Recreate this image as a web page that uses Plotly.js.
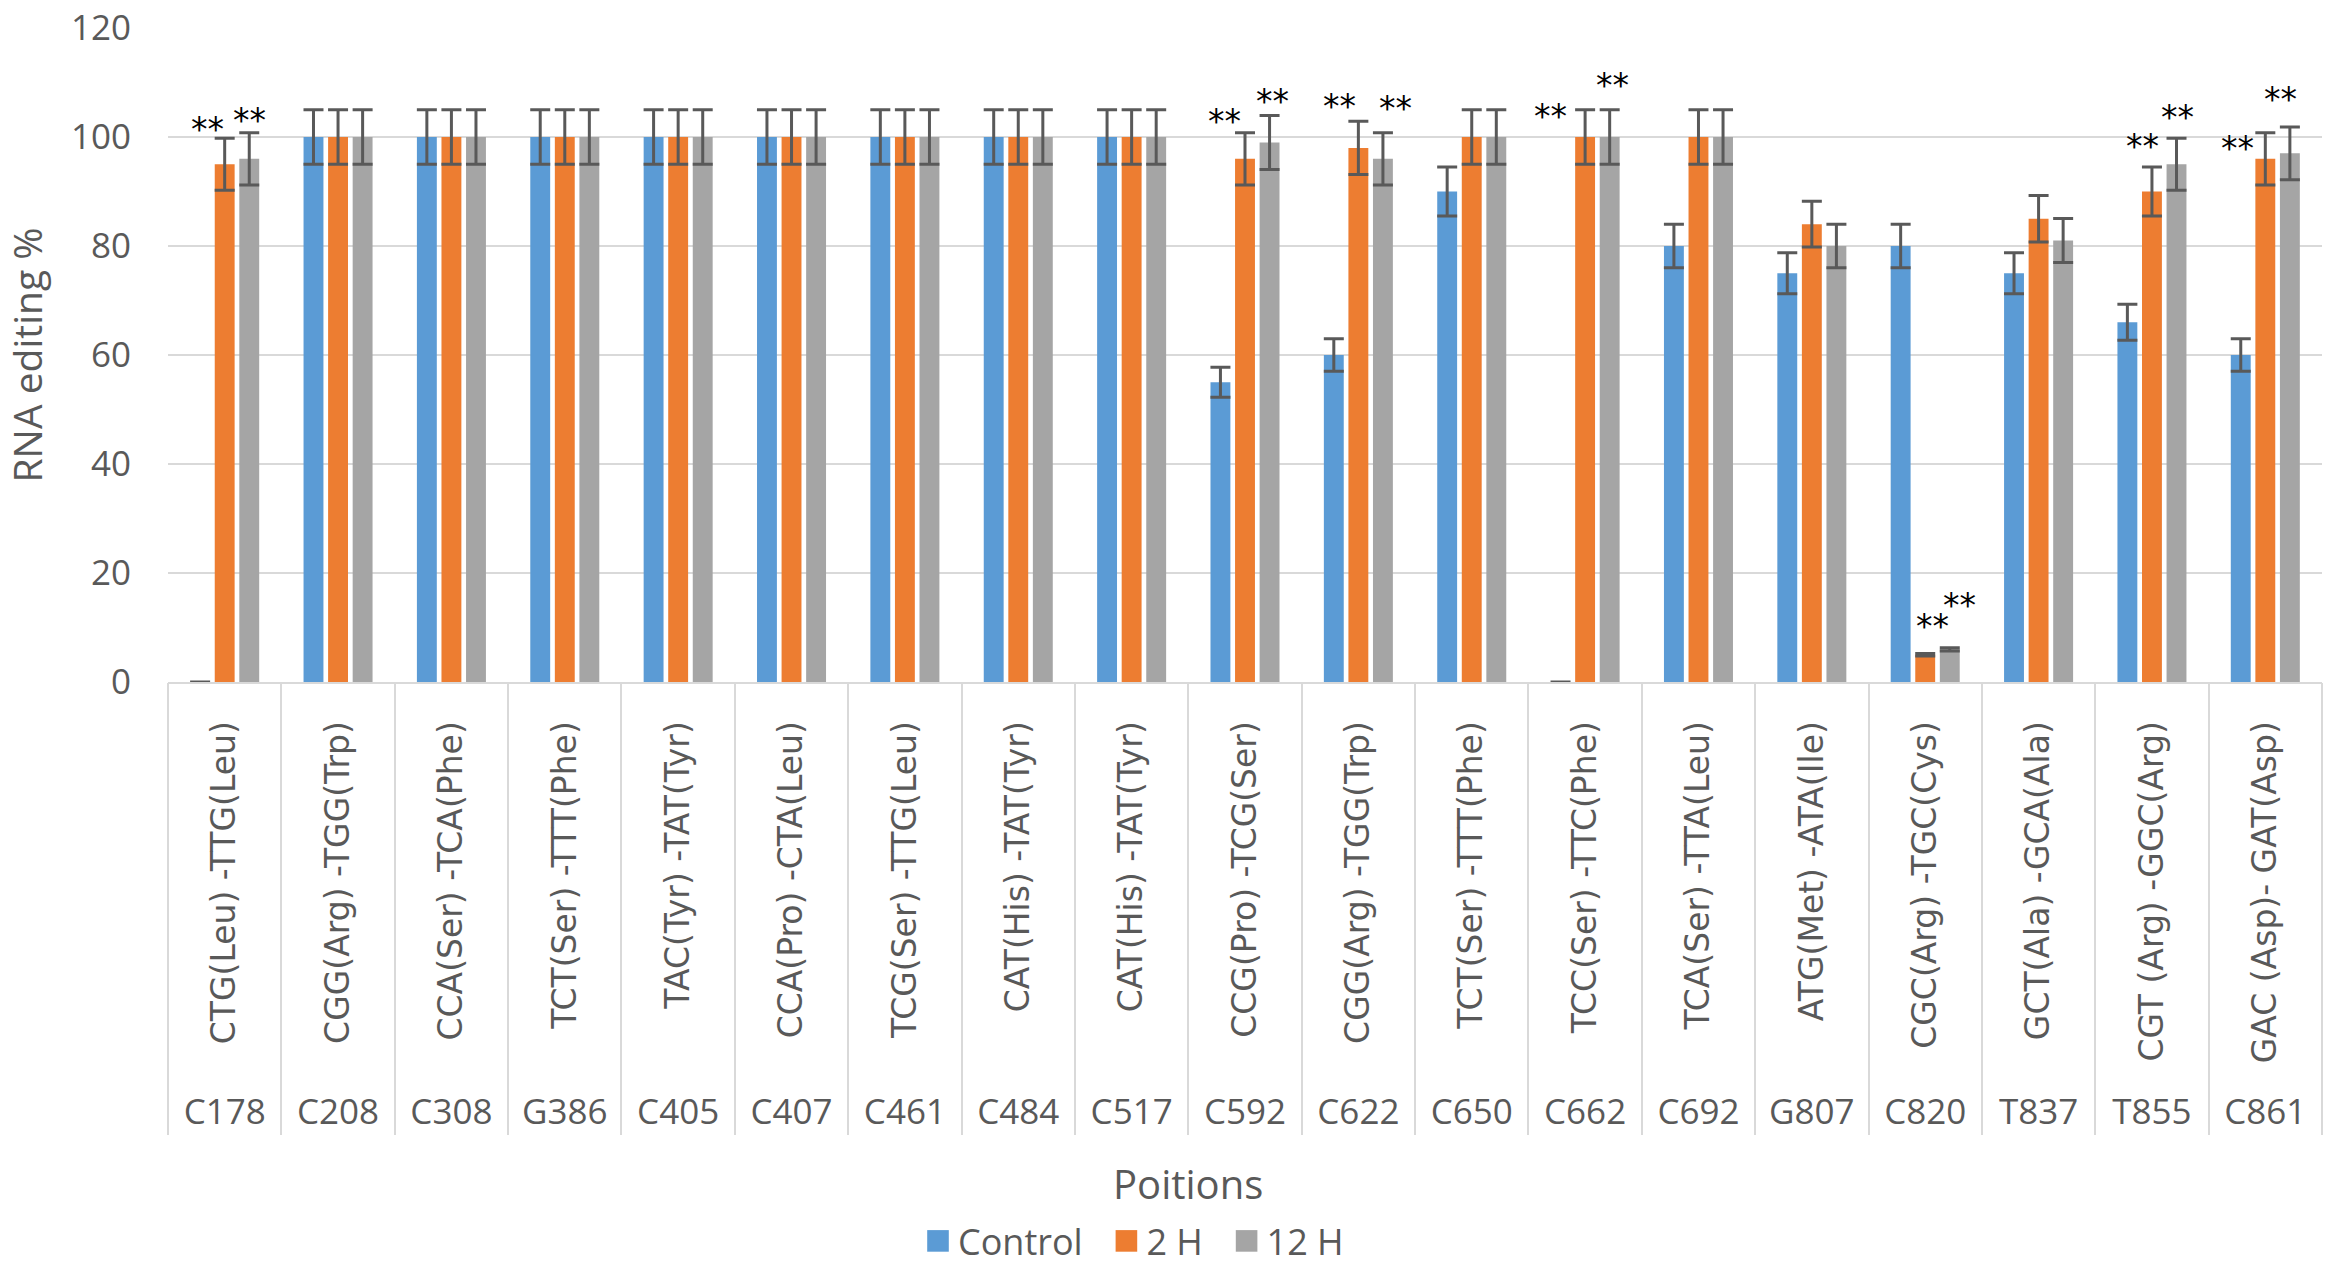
<!DOCTYPE html>
<html>
<head>
<meta charset="utf-8">
<script src="https://cdn.plot.ly/plotly-3.0.1.min.js"></script>
<style>
  html, body { margin: 0; padding: 0; background: #ffffff; }
  #chart { width: 2334px; height: 1278px; }
</style>
</head>
<body>
<div id="chart"></div>
<script>
// ---- data ----
const positions = ['C178','C208','C308','G386','C405','C407','C461','C484','C517','C592',
                   'C622','C650','C662','C692','G807','C820','T837','T855','C861'];
const codonChanges = ['CTG(Leu) -TTG(Leu)','CGG(Arg) -TGG(Trp)','CCA(Ser) -TCA(Phe)','TCT(Ser) -TTT(Phe)',
                      'TAC(Tyr) -TAT(Tyr)','CCA(Pro) -CTA(Leu)','TCG(Ser) -TTG(Leu)','CAT(His) -TAT(Tyr)',
                      'CAT(His) -TAT(Tyr)','CCG(Pro) -TCG(Ser)','CGG(Arg) -TGG(Trp)','TCT(Ser) -TTT(Phe)',
                      'TCC(Ser) -TTC(Phe)','TCA(Ser) -TTA(Leu)','ATG(Met) -ATA(Ile)','CGC(Arg) -TGC(Cys)',
                      'GCT(Ala) -GCA(Ala)','CGT (Arg) -GGC(Arg)','GAC (Asp)- GAT(Asp)'];
const control = [0,100,100,100,100,100,100,100,100,55,60,90,0,80,75,80,75,66,60];
const h2      = [95,100,100,100,100,100,100,100,100,96,98,100,100,100,84,5,85,90,96];
const h12     = [96,100,100,100,100,100,100,100,100,99,96,100,100,100,80,6,81,95,97];
const errorPercent = 5;
const seriesNames = ['Control','2 H','12 H'];
const yTicks = [0,20,40,60,80,100,120];
// significance marks: [position, series index]
const sigPos    = ['C178','C178','C592','C592','C622','C622','C662','C662','C820','C820','T855','T855','C861','C861'];
const sigSeries = [1,2,1,2,1,2,1,2,1,2,1,2,1,2];

// ---- styles ----
const colors = ['#5B9BD5','#ED7D31','#A5A5A5'];
const textGray = '#595959';
const lineGray = '#D9D9D9';
const W = 2334, H = 1278;
const M = {l:168, r:12, t:28, b:596, autoexpand: false};
const bargap = 0.35;
// pixel nudges for the ** labels (label placement only)
const sigNudgeX = [-17,0,-21,3,-19,13,-35,3,7,10,-9,1,-28,-9];
const sigNudgeY = [15,18,17,20,21,30,-1,30,33,48,26,27,-10,33];
const legendPad = '\u00a0\u00a0';

const seriesData = [control, h2, h12];
const traces = seriesData.map((vals, i) => ({
  type: 'bar',
  name: seriesNames[i] + (i < seriesNames.length - 1 ? legendPad : ''),
  x: positions,
  y: vals,
  marker: {color: colors[i]},
  error_y: {type: 'percent', value: errorPercent, visible: true,
            color: textGray, thickness: 3, width: 10},
  hoverinfo: 'x+y+name'
}));
// helper traces so the extra x axes (position labels, dividers) are drawn
['x2','x3'].forEach(ax => traces.push({
  type: 'scatter', mode: 'markers', x: positions, y: positions.map(() => null),
  xaxis: ax, yaxis: 'y', showlegend: false, hoverinfo: 'skip'
}));

const plotW = W - M.l - M.r;
const plotH = H - M.t - M.b;
const catW = plotW / positions.length;
const slot = catW * (1 - bargap) / 3;

const annotations = sigPos.map((p, k) => {
  const s = sigSeries[k];
  const v = seriesData[s][positions.indexOf(p)];
  return {
    x: p, xref: 'x', y: v * (1 + errorPercent / 100), yref: 'y',
    text: '**', showarrow: false,
    xanchor: 'center', yanchor: 'middle',
    xshift: (s - 1) * slot + sigNudgeX[k],
    yshift: sigNudgeY[k] - 6,
    font: {family: 'DejaVu Sans, sans-serif', size: 33, color: '#000000'}
  };
});
annotations.push({
  text: 'Poitions', showarrow: false,
  xref: 'paper', yref: 'paper',
  x: (1188 - M.l) / plotW, y: -(1183 - (H - M.b)) / plotH,
  xanchor: 'center', yanchor: 'middle',
  font: {family: 'Open Sans, sans-serif', size: 40, color: textGray}
});

const xRange = [-0.5, positions.length - 0.5];
const baseX = {
  type: 'category', tickmode: 'array', tickvals: positions,
  range: xRange, autorange: false,
  showgrid: false, zeroline: false, fixedrange: true, automargin: false
};

const layout = {
  width: W, height: H,
  margin: M,
  paper_bgcolor: '#ffffff', plot_bgcolor: '#ffffff',
  barmode: 'group', bargap: bargap, bargroupgap: 0.19,
  showlegend: true,
  legend: {
    orientation: 'h', x: (918 - M.l) / plotW, xanchor: 'left',
    y: -(1241 - (H - M.b)) / plotH, yanchor: 'middle',
    font: {family: 'Open Sans, sans-serif', size: 36, color: textGray},
    tracegroupgap: 0, bgcolor: 'rgba(0,0,0,0)'
  },
  xaxis: Object.assign({}, baseX, {
    ticktext: codonChanges, tickangle: -90,
    tickfont: {family: 'DejaVu Sans, sans-serif', size: 33, color: textGray},
    ticks: '', ticklabelstandoff: 24,
    showline: true, linecolor: lineGray, linewidth: 2
  }),
  xaxis2: Object.assign({}, baseX, {
    overlaying: 'x', matches: 'x', anchor: 'y', side: 'bottom',
    ticktext: positions, tickangle: 0,
    tickfont: {family: 'Open Sans, sans-serif', size: 35, color: textGray},
    ticks: '', ticklabelstandoff: 406, showline: false
  }),
  xaxis3: Object.assign({}, baseX, {
    overlaying: 'x', matches: 'x', anchor: 'y', side: 'bottom',
    showticklabels: false,
    ticks: 'outside', tickson: 'boundaries', ticklen: 452,
    tickcolor: lineGray, tickwidth: 2, showline: false
  }),
  yaxis: {
    range: [0, 120], tickmode: 'array', tickvals: yTicks,
    tickfont: {family: 'Open Sans, sans-serif', size: 35, color: textGray},
    showgrid: true, gridcolor: lineGray, gridwidth: 2,
    zeroline: false, showline: false, ticks: '',
    ticklabelstandoff: 36, fixedrange: true, automargin: false,
    title: {text: 'RNA editing %', standoff: 24,
            font: {family: 'Open Sans, sans-serif', size: 39, color: textGray}}
  },
  annotations: annotations
};

Plotly.newPlot('chart', traces, layout, {displayModeBar: false, staticPlot: true}).then(gd => {
  // enlarge the legend squares to match the reference
  gd.querySelectorAll('.legend .legendpoints path').forEach(p => {
    const t = p.getAttribute('transform') || '';
    p.setAttribute('transform', t + ' scale(1.8)');
  });
});
</script>
</body>
</html>
